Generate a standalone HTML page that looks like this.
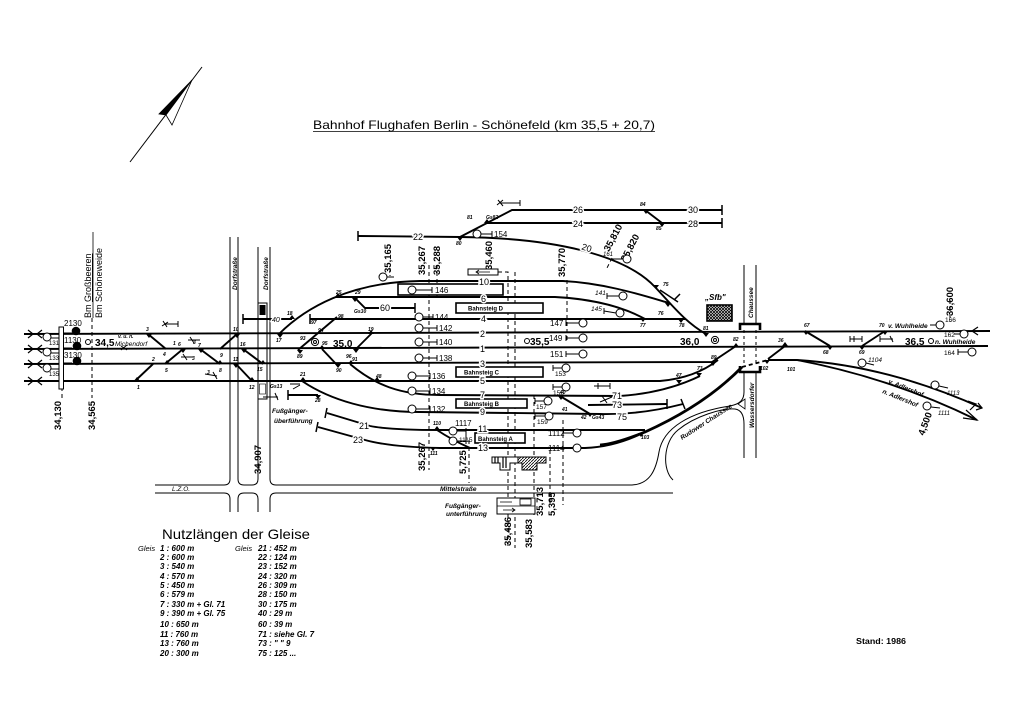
<!DOCTYPE html>
<html><head><meta charset="utf-8"><style>
html,body{margin:0;padding:0;background:#fff}
svg{display:block}
text{font-family:"Liberation Sans",sans-serif;fill:#000}
.t{font-size:9px;stroke:#fff;stroke-width:3;paint-order:stroke}
.s{font-size:5px;font-style:italic;font-weight:bold}
.i{font-size:6.5px;font-style:italic}
.ib{font-size:6.5px;font-style:italic;font-weight:bold}
.n{font-size:8px}
.k{font-size:10px;font-weight:bold}
.km{font-size:9.5px;font-weight:bold}
</style></head><body>
<svg width="1024" height="724" viewBox="0 0 1024 724" xmlns="http://www.w3.org/2000/svg">
<defs>
<pattern id="hx" width="3" height="3" patternUnits="userSpaceOnUse"><rect width="3" height="3" fill="#fff"/><path d="M0,0L3,3M3,0L0,3" stroke="#000" stroke-width="0.8"/></pattern>
<pattern id="hd" width="3" height="3" patternUnits="userSpaceOnUse"><rect width="3" height="3" fill="#fff"/><path d="M0,3L3,0" stroke="#000" stroke-width="0.8"/></pattern>
</defs>
<rect width="1024" height="724" fill="#fff"/>

<!-- North arrow -->
<line x1="130" y1="162" x2="202" y2="67" stroke="#000" stroke-width="1"/>
<polygon points="192,80 159,114 166,115" fill="#000" stroke="#000" stroke-width="0.8"/>
<polygon points="192,80 172,125 166,115" fill="#fff" stroke="#000" stroke-width="0.8"/>

<!-- Title -->
<text x="313" y="129" font-size="12" textLength="342" lengthAdjust="spacingAndGlyphs">Bahnhof Flughafen Berlin - Schönefeld (km 35,5 + 20,7)</text>
<line x1="313" y1="131.5" x2="655" y2="131.5" stroke="#000" stroke-width="0.8"/>

<!-- Roads -->
<g fill="none" stroke="#000" stroke-width="1">
 <path d="M155,485 L224,485 Q230,485 230,479 L230,237"/>
 <path d="M238,237 L238,479 Q238,485 244,485 L252,485 Q258,485 258,479 L258,399"/>
 <path d="M258,247 L258,303"/>
 <path d="M270,247 L270,479 Q270,485 276,485 L632,485 C650,484 656,470 659,452 C663,428 690,412 730,406 C740,404 744,400 744,392 L744,373"/>
 <path d="M155,493 L224,493 Q230,493 230,499 L230,512"/>
 <path d="M238,512 L238,499 Q238,493 244,493 L252,493 Q258,493 258,499 L258,512"/>
 <path d="M270,512 L270,499 Q270,493 276,493 L673,493"/>
 <path d="M673,480 C662,470 663,442 678,430 C695,416 722,408 735,409 C742,410 744,416 744,424 L744,458"/>
 <path d="M756,373 L756,458"/>
 <path d="M744,265 L744,325 M756,265 L756,325"/>
 <path d="M744,330 L744,366 M756,330 L756,366" stroke-dasharray="3,3"/>
</g>
<path d="M740,330 L740,324 L760,324 L760,330" fill="none" stroke="#000" stroke-width="2.6"/>
<path d="M740,366 L740,372 L760,372 L760,366" fill="none" stroke="#000" stroke-width="2.6"/>
<polygon points="738,404 745,399 745,409" fill="#fff" stroke="#000" stroke-width="0.8"/>

<!-- footbridge -->
<rect x="258" y="303" width="9" height="96" fill="#fff" stroke="#000" stroke-width="1"/>
<rect x="259.5" y="305" width="6" height="10" fill="#000"/>
<rect x="259.5" y="384" width="6" height="10" fill="#fff" stroke="#000" stroke-width="0.6"/>

<!-- km dashed lines -->
<g stroke="#000" stroke-width="1" stroke-dasharray="4,3" fill="none">
 <path d="M62,387 L62,398"/>
 <path d="M92,318 L92,398"/>
 <path d="M429,265 L429,470"/>
 <path d="M437,265 L437,300"/>
 <path d="M469,440 L469,483"/>
 <path d="M498,272 L508,272 L508,548"/>
 <path d="M515,272 L515,548"/>
 <path d="M534,395 L534,515"/>
 <path d="M550,450 L550,505"/>
 <path d="M563,420 L563,505"/>
 <path d="M567,280 L567,340"/>
 <path d="M258,440 L258,478"/>
 <path d="M950,300 L950,322"/>
 <path d="M612,258 L606,270"/>
 <path d="M390,268 L390,276"/>
</g>

<!-- Main tracks -->
<g fill="none" stroke="#000" stroke-width="1.9">
 <path d="M24,334 L990,331"/>
 <path d="M24,349 L988,346"/>
 <path d="M24,364 L712,362 L736,346"/>
 <path d="M24,381 L660,381 Q695,378 718,360"/>
 <path d="M310,319 L686,319"/>
 <path d="M243,319 L292,319"/>
 <path d="M279,334 C305,308 350,282 420,281 L563,281 C605,283 645,296 669,303"/>
 <path d="M358,236 L460,237 C555,238 625,255 655,287 C672,305 685,322 706,334"/>
 <path d="M336,297 L555,297 C595,299 625,308 645,319"/>
 <path d="M460,237 L512,210 L722,210"/>
 <path d="M486,223 L722,223"/>
 <path d="M645,210 L662,223"/>
 <path d="M350,364 C375,385 400,395 440,395 L620,396 Q665,393 700,376"/>
 <path d="M302,381 C330,400 370,412 420,412 L600,414 Q640,415 683,404"/>
 <path d="M588,405 L667,404"/>
 <path d="M560,396 L590,414"/>
 <path d="M288,395 L318,395"/>
 <path d="M327,413 L370,426 Q390,430 440,430 L645,430"/>
 <path d="M318,427 L365,440 Q390,447 440,448 L585,448 Q615,447 645,432"/>
 <path d="M437,430 Q452,440 470,448"/>
 <path d="M355,298 L365,308 L415,308"/>
 <path d="M148,334 L166,349"/>
 <path d="M135,381 L153,364"/>
 <path d="M165,364 L183,349"/>
 <path d="M200,349 L220,364"/>
 <path d="M220,349 L237,334"/>
 <path d="M236,364 L252,381"/>
 <path d="M243,349 L263,364"/>
 <path d="M298,350 L337,317"/>
 <path d="M322,349 L338,366"/>
 <path d="M355,350 L372,333"/>
 <path d="M805,331 L830,346"/>
 <path d="M885,331 L862,346"/>
 <path d="M785,346 L768,359"/>
 <path d="M797,360 C860,364 920,380 982,408"/>
 <path d="M797,360 C860,372 920,392 977,420"/>
 <path d="M768,360 L797,360"/>
</g>
<path d="M600,445 Q615,444 645,432 Q705,405 742,367" fill="none" stroke="#000" stroke-width="2.8"/>
<path d="M742,367 L768,360" fill="none" stroke="#000" stroke-width="1.8" stroke-dasharray="4,3"/>

<!-- bumpers -->
<g stroke="#000" stroke-width="1.5">
 <path d="M243,314 L243,324"/><path d="M310,314 L310,324"/>
 <path d="M358,231 L358,241"/><path d="M722,205 L722,215"/><path d="M722,218 L722,228"/>
 <path d="M288,390 L288,400"/><path d="M327,408 L325,418"/><path d="M318,422 L316,432"/>
 <path d="M415,303 L415,313"/><path d="M667,399 L667,409"/><path d="M681,399 L685,409"/>
 <path d="M674,300 L680,294"/><path d="M660,290 L678,302"/>
</g>

<!-- end arrows -->
<g fill="none" stroke="#000" stroke-width="1.2">
 <path d="M28,330 L33,334 L28,338 M42,330 L37,334 L42,338"/>
 <path d="M28,345 L33,349 L28,353 M42,345 L37,349 L42,353"/>
 <path d="M28,360 L33,364 L28,368 M42,360 L37,364 L42,368"/>
 <path d="M28,377 L33,381 L28,385 M42,377 L37,381 L42,385"/>
 <path d="M978,327 L972,331 L978,335"/>
 <path d="M968,401 L976,404 L970,410 M978,403 L982,408 L976,410"/>
 <path d="M966,410 L977,420 L963,418"/>
</g>

<!-- left signals -->
<rect x="59" y="327" width="4.5" height="62" fill="#fff" stroke="#000" stroke-width="1"/>
<g stroke="#000" stroke-width="1" fill="none">
 <path d="M63,333 L72,333 M63,348 L72,348 M63,363 L72,363"/>
 <path d="M51,338 L59,338 M51,353 L59,353 M51,369 L59,369"/>
</g>
<circle cx="76" cy="331" r="4.3" fill="#000"/>
<circle cx="77" cy="346" r="4.3" fill="#000"/>
<circle cx="77" cy="361" r="4.3" fill="#000"/>
<g fill="#fff" stroke="#000" stroke-width="1">
 <circle cx="47" cy="337" r="4"/><circle cx="47" cy="352" r="4"/><circle cx="47" cy="368" r="4"/>
 <circle cx="88" cy="342" r="2.5"/>
</g>
<g class="n" font-size="7">
 <text x="64" y="326">2130</text><text x="64" y="343">1130</text><text x="64" y="358">3130</text>
 <text x="49" y="345" font-size="6">131</text><text x="49" y="360" font-size="6">133</text><text x="49" y="376" font-size="6">135</text>
</g>
<text x="95" y="346" class="k">34,5</text>
<text x="118" y="338" class="s">v. u. n.</text>
<text x="115" y="346" class="i">Michendorf</text>

<!-- Bm labels -->
<text transform="translate(91,318) rotate(-90)" font-size="9">Bm <tspan text-decoration="underline">Großbeeren</tspan></text>
<line x1="93" y1="318" x2="93" y2="232" stroke="#000" stroke-width="0.8"/>
<text transform="translate(102,318) rotate(-90)" font-size="9">Bm  Schöneweide</text>

<!-- km rotated labels -->
<g class="km">
 <text transform="translate(61,430) rotate(-90)">34,130</text>
 <text transform="translate(95,430) rotate(-90)">34,565</text>
 <text transform="translate(261,474) rotate(-90)">34,907</text>
 <text transform="translate(391,273) rotate(-90)">35,165</text>
 <text transform="translate(425,275) rotate(-90)">35,267</text>
 <text transform="translate(440,275) rotate(-90)">35,288</text>
 <text transform="translate(492,270) rotate(-90)">35,460</text>
 <text transform="translate(565,277) rotate(-90)">35,770</text>
 <text transform="translate(425,471) rotate(-90)">35,267</text>
 <text transform="translate(466,474) rotate(-90)">5,725</text>
 <text transform="translate(511,546) rotate(-90)">35,486</text>
 <text transform="translate(532,548) rotate(-90)">35,583</text>
 <text transform="translate(543,516) rotate(-90)">35,713</text>
 <text transform="translate(555,516) rotate(-90)">5,395</text>
 <text transform="translate(953,316) rotate(-90)">36,600</text>
 <text transform="translate(609,252) rotate(-62)">35,810</text>
 <text transform="translate(626,262) rotate(-62)">35,820</text>
 <text transform="translate(924,436) rotate(-70)">4,500</text>
</g>

<!-- road names -->
<text transform="translate(237,290) rotate(-90)" class="ib">Dorfstraße</text>
<text transform="translate(268,290) rotate(-90)" class="ib">Dorfstraße</text>
<text transform="translate(753,318) rotate(-90)" class="ib">Chaussee</text>
<text transform="translate(754,428) rotate(-90)" class="ib">Wassersdorfer</text>
<text transform="translate(682,440) rotate(-33)" class="ib">Rudower Chaussee</text>
<text x="440" y="491" class="ib">Mittelstraße</text>
<text x="172" y="491" class="i" font-size="5.5">L.Z.O.</text>
<text x="272" y="413" class="ib">Fußgänger-</text>
<text x="274" y="423" class="ib">überführung</text>
<text x="445" y="508" class="ib">Fußgänger-</text>
<text x="446" y="516" class="ib">unterführung</text>

<!-- underpass box -->
<rect x="497" y="498" width="38" height="16" fill="#fff" stroke="#000" stroke-width="1"/>
<line x1="497" y1="506" x2="535" y2="506" stroke="#000" stroke-width="0.8"/>
<rect x="520" y="499" width="11" height="6" fill="#fff" stroke="#000" stroke-width="0.8"/>
<path d="M500,502 L512,502 M503,510 L515,510 M512,508 L515,510 L512,512" stroke="#000" stroke-width="0.8" fill="none"/>

<!-- small box with arrow -->
<rect x="468" y="269" width="30" height="6" fill="#fff" stroke="#000" stroke-width="1"/>
<path d="M476,272 L490,272 M479,270 L476,272 L479,274" stroke="#000" stroke-width="0.8" fill="none"/>

<!-- platforms -->
<g fill="#fff" stroke="#000" stroke-width="1.6">
 <rect x="398" y="284" width="105" height="11"/>
 <rect x="456" y="303" width="87" height="10"/>
 <rect x="456" y="367" width="87" height="10"/>
 <rect x="456" y="399" width="71" height="9"/>
 <rect x="475" y="433" width="50" height="10"/>
</g>
<g font-size="6" font-weight="bold">
 <text x="468" y="310.5">Bahnsteig  D</text>
 <text x="464" y="374.5">Bahnsteig  C</text>
 <text x="464" y="406">Bahnsteig  B</text>
 <text x="478" y="441">Bahnsteig  A</text>
</g>

<!-- station building -->
<path d="M492,457 L518,457 L518,463 L510,463 L510,470 L500,470 L500,463 L492,463 Z" fill="#fff" stroke="#000" stroke-width="1"/>
<path d="M495,457 L495,463 M498,457 L498,463 M503,457 L503,468 M506,457 L506,468" stroke="#000" stroke-width="1.2"/>
<path d="M518,457 L546,457 L546,463 L537,463 L537,470 L522,470 L522,463 L518,463 Z" fill="url(#hd)" stroke="#000" stroke-width="1"/>

<!-- Sfb -->
<text x="705" y="300" font-size="8" font-style="italic" font-weight="bold">„Sfb"</text>
<rect x="707" y="305" width="25" height="16" fill="url(#hx)" stroke="#000" stroke-width="1.6"/>

<!-- targets -->
<g fill="none" stroke="#000" stroke-width="1">
 <circle cx="315" cy="342" r="3.6"/><circle cx="315" cy="342" r="1.5"/>
 <circle cx="715" cy="340" r="3.6"/><circle cx="715" cy="340" r="1.5"/>
 <circle cx="527" cy="341" r="2.5"/><circle cx="931" cy="341" r="2.5"/>
</g>
<text x="333" y="347" class="k" font-size="11">35,0</text>
<text x="530" y="345" class="k" font-size="11">35,5</text>
<text x="680" y="345" class="k" font-size="11">36,0</text>
<text x="905" y="345" class="k" font-size="11">36,5</text>

<!-- signals -->
<g fill="#fff" stroke="#000" stroke-width="1">
 <circle cx="477" cy="234" r="4"/><circle cx="412" cy="290" r="4"/>
 <circle cx="419" cy="317" r="4"/><circle cx="419" cy="328" r="4"/><circle cx="419" cy="342" r="4"/>
 <circle cx="419" cy="358" r="4"/><circle cx="412" cy="376" r="4"/><circle cx="412" cy="391" r="4"/>
 <circle cx="412" cy="409" r="4"/><circle cx="383" cy="277" r="4"/>
 <circle cx="453" cy="431" r="4"/><circle cx="453" cy="441" r="4"/>
 <circle cx="583" cy="323" r="4"/><circle cx="583" cy="338" r="4"/><circle cx="583" cy="354" r="4"/>
 <circle cx="566" cy="368" r="4"/><circle cx="566" cy="387" r="4"/><circle cx="548" cy="401" r="4"/>
 <circle cx="549" cy="416" r="4"/><circle cx="623" cy="296" r="4"/><circle cx="620" cy="313" r="4"/>
 <circle cx="627" cy="259" r="4"/><circle cx="577" cy="433" r="4"/><circle cx="577" cy="448" r="4"/>
 <circle cx="940" cy="325" r="4"/><circle cx="964" cy="334" r="4"/><circle cx="972" cy="352" r="4"/>
 <circle cx="862" cy="363" r="4"/><circle cx="935" cy="385" r="4"/><circle cx="927" cy="406" r="4"/>
</g>
<g stroke="#000" stroke-width="1" fill="none">
 <path d="M481,234 L492,234 M492,231 L492,237"/>
 <path d="M416,290 L432,290 M432,287 L432,293"/>
 <path d="M423,317 L433,317 M433,314 L433,320"/>
 <path d="M423,328 L437,328 M437,325 L437,331"/>
 <path d="M423,342 L437,342 M437,339 L437,345"/>
 <path d="M423,358 L437,358 M437,355 L437,361"/>
 <path d="M416,376 L430,376 M430,373 L430,379"/>
 <path d="M416,391 L430,391 M430,388 L430,394"/>
 <path d="M416,409 L430,409 M430,406 L430,412"/>
 <path d="M387,277 L394,277"/>
 <path d="M457,431 L466,431 M457,441 L466,441 M466,428 L466,444"/>
 <path d="M579,323 L566,323 M566,320 L566,326"/>
 <path d="M579,338 L566,338 M566,335 L566,341"/>
 <path d="M579,354 L566,354 M566,351 L566,357"/>
 <path d="M562,368 L553,368 M553,365 L553,371"/>
 <path d="M562,387 L553,387 M553,384 L553,390"/>
 <path d="M544,401 L535,401 M535,398 L535,404"/>
 <path d="M545,416 L535,416 M535,413 L535,419"/>
 <path d="M619,296 L607,296 M607,293 L607,299"/>
 <path d="M616,313 L604,311 M604,308 L604,314"/>
 <path d="M623,259 L612,259"/>
 <path d="M573,433 L563,433 M563,430 L563,436"/>
 <path d="M573,448 L563,448 M563,445 L563,451"/>
 <path d="M936,325 L930,325"/>
 <path d="M960,334 L954,334"/>
 <path d="M968,352 L958,352 M958,349 L958,355"/>
 <path d="M866,363 L874,365"/>
 <path d="M939,386 L948,388"/>
 <path d="M931,407 L940,408"/>
</g>
<g class="n" font-size="7.5">
 <text x="494" y="237">154</text><text x="435" y="293">146</text><text x="435" y="320">144</text>
 <text x="439" y="331">142</text><text x="439" y="345">140</text><text x="439" y="361">138</text>
 <text x="432" y="379">136</text><text x="432" y="394">134</text><text x="432" y="412">132</text>
 <text x="455" y="426">1117</text><text x="459" y="442" font-size="6.5">1115</text>
 <text x="550" y="326">147</text><text x="549" y="341">149</text><text x="550" y="357">151</text>
 <text x="555" y="376" font-size="6.5">153</text><text x="553" y="395" font-size="6.5">155</text>
 <text x="536" y="409" font-size="6.5">157</text><text x="537" y="424" font-size="6.5">159</text>
 <text x="595" y="295" font-size="6.5" font-style="italic">141</text><text x="591" y="311" font-size="6.5" font-style="italic">145</text>
 <text x="603" y="256" font-size="6" font-style="italic">161</text>
 <text x="548" y="436">1112</text><text x="548" y="451">1114</text>
 <text x="945" y="322" font-size="6.5">166</text><text x="944" y="337" font-size="6.5">162</text><text x="944" y="355" font-size="6.5">164</text>
 <text x="868" y="362" font-size="6.5" font-style="italic">1104</text><text x="947" y="395" font-size="6" font-style="italic">1113</text><text x="938" y="415" font-size="6" font-style="italic">1111</text>
</g>

<!-- track number labels -->
<g class="t">
 <text x="413" y="240">22</text><text x="573" y="213">26</text><text x="573" y="227">24</text>
 <text x="688" y="213">30</text><text x="688" y="227">28</text>
 <text x="582" y="251" transform="rotate(18 587 247)">20</text>
 <text x="479" y="285">10</text><text x="481" y="302">6</text><text x="481" y="322">4</text>
 <text x="480" y="337">2</text><text x="480" y="352">1</text><text x="480" y="367">3</text>
 <text x="480" y="384">5</text><text x="480" y="398">7</text><text x="480" y="415">9</text>
 <text x="478" y="432">11</text><text x="478" y="451">13</text>
 <text x="359" y="429">21</text><text x="353" y="443">23</text>
 <text x="380" y="311">60</text><text x="272" y="322" font-size="7" font-style="italic">40</text>
 <text x="612" y="399">71</text><text x="612" y="408">73</text><text x="617" y="420">75</text>
</g>

<!-- switch marks -->
<g fill="#000">
 <path d="M146,334 L152,334 L149,338 Z"/><path d="M134,381 L140,381 L137,377 Z"/>
 <path d="M164,364 L170,364 L167,360 Z"/><path d="M180,349 L186,349 L183,353 Z"/>
 <path d="M198,349 L204,349 L201,353 Z"/><path d="M217,364 L223,364 L220,360 Z"/>
 <path d="M234,334 L240,334 L237,338 Z"/><path d="M233,364 L239,364 L236,368 Z"/>
 <path d="M249,381 L255,381 L252,377 Z"/><path d="M241,349 L247,349 L244,353 Z"/>
 <path d="M260,364 L266,364 L263,360 Z"/><path d="M277,334 L283,334 L280,338 Z"/>
 <path d="M289,319 L295,319 L292,315 Z"/><path d="M297,350 L303,350 L300,354 Z"/>
 <path d="M319,349 L325,349 L322,345 Z"/><path d="M335,364 L341,364 L338,368 Z"/>
 <path d="M353,349 L359,349 L356,353 Z"/><path d="M368,334 L374,334 L371,330 Z"/>
 <path d="M348,364 L354,364 L351,360 Z"/><path d="M374,381 L380,381 L377,377 Z"/>
 <path d="M300,381 L306,381 L303,377 Z"/><path d="M315,395 L321,395 L318,399 Z"/>
 <path d="M335,297 L341,297 L338,293 Z"/><path d="M352,298 L358,298 L355,302 Z"/>
 <path d="M434,430 L440,430 L437,426 Z"/><path d="M430,447 L436,447 L433,451 Z"/>
 <path d="M457,237 L463,237 L460,241 Z"/><path d="M643,210 L649,210 L646,214 Z"/>
 <path d="M659,223 L665,223 L662,227 Z"/><path d="M640,318 L646,318 L643,322 Z"/>
 <path d="M678,319 L684,319 L681,323 Z"/><path d="M703,333 L709,333 L706,337 Z"/>
 <path d="M665,303 L671,303 L668,307 Z"/><path d="M653,285 L659,285 L656,289 Z"/>
 <path d="M710,362 L716,362 L713,366 Z"/><path d="M733,347 L739,347 L736,343 Z"/>
 <path d="M676,380 L682,380 L679,384 Z"/><path d="M696,373 L702,373 L699,377 Z"/>
 <path d="M638,433 L644,433 L641,437 Z"/><path d="M764,360 L770,360 L767,364 Z"/>
 <path d="M782,346 L788,346 L785,342 Z"/><path d="M803,331 L809,331 L806,335 Z"/>
 <path d="M827,346 L833,346 L830,350 Z"/><path d="M882,331 L888,331 L885,335 Z"/>
 <path d="M859,346 L865,346 L862,350 Z"/><path d="M558,396 L564,396 L561,400 Z"/>
 <path d="M587,413 L593,413 L590,417 Z"/><path d="M484,223 L490,223 L487,219 Z"/>
</g>

<!-- switch numbers -->
<g class="s">
 <text x="146" y="331">3</text><text x="163" y="356">4</text><text x="152" y="361">2</text><text x="137" y="389">1</text>
 <text x="165" y="372">5</text><text x="178" y="346">6</text><text x="198" y="347">7</text><text x="219" y="372">8</text>
 <text x="220" y="357">9</text><text x="233" y="331">10</text><text x="233" y="361">11</text><text x="249" y="389">12</text>
 <text x="240" y="346">16</text><text x="257" y="371">15</text><text x="276" y="342">17</text><text x="287" y="315">18</text>
 <text x="297" y="358">89</text><text x="300" y="340">93</text><text x="318" y="332">94</text><text x="311" y="324">97</text>
 <text x="338" y="318">98</text><text x="322" y="345">95</text><text x="346" y="358">96</text><text x="368" y="331">19</text>
 <text x="336" y="372">90</text><text x="352" y="361">91</text><text x="376" y="378">48</text><text x="300" y="376">21</text>
 <text x="315" y="402">28</text><text x="336" y="294">25</text><text x="355" y="294">29</text><text x="354" y="313">Gs30</text>
 <text x="433" y="425">110</text><text x="430" y="455">111</text><text x="456" y="245">80</text><text x="467" y="219">81</text>
 <text x="486" y="219">Gs82</text><text x="640" y="206">84</text><text x="656" y="230">85</text><text x="663" y="286">75</text>
 <text x="658" y="315">76</text><text x="640" y="327">77</text><text x="679" y="327">78</text><text x="703" y="330">81</text>
 <text x="733" y="341">82</text><text x="711" y="359">89</text><text x="676" y="377">47</text><text x="697" y="370">73</text>
 <text x="560" y="394">40</text><text x="562" y="411">41</text><text x="581" y="419">42</text><text x="592" y="419">Gs43</text>
 <text x="641" y="439">103</text><text x="760" y="370">102</text><text x="787" y="371">101</text><text x="778" y="342">36</text>
 <text x="804" y="327">67</text><text x="823" y="354">68</text><text x="879" y="327">70</text><text x="859" y="354">69</text>
 <text x="173" y="345">1</text>
</g>

<!-- shunting signals -->
<g stroke="#000" stroke-width="1" fill="none">
 <path d="M162,326 L168,322 M163,321 L167,327 M165,324 L178,324 M178,321 L178,327"/>
 <path d="M188,340 L200,340 M190,337 L194,343"/>
 <path d="M181,357 L193,357 M183,354 L187,360"/>
 <path d="M205,374 L217,376 M213,372 L217,379"/>
 <path d="M293,389 L300,385 M290,384 L300,384"/>
 <path d="M263,397 L278,397 M275,393 L278,400"/>
 <path d="M498,200 L503,206 M497,205 L503,200 M500,203 L520,203 M520,200 L520,206"/>
 <path d="M594,386 L610,386 M598,383 L598,389 M610,383 L610,389"/>
 <path d="M600,402 L612,397 M602,396 L607,403"/>
 <path d="M850,339 L862,339 M850,336 L850,342 M854,336 L854,342 M862,336 L862,342"/>
 <path d="M880,339 L893,339 M880,336 L880,342 M890,336 L893,342"/>
 <path d="M121,350 L127,345 M121,346 L127,350"/>
</g>
<text x="193" y="344" class="s">3</text><text x="192" y="360" class="s">3</text><text x="207" y="374" class="s">3</text>
<text x="270" y="388" class="s">Gs13</text>

<!-- direction labels -->
<text x="888" y="328" class="ib" font-size="6">v. Wuhlheide</text>
<text x="935" y="344" class="ib" font-size="6">n. Wuhlheide</text>
<text transform="translate(888,383) rotate(22)" class="ib" font-size="6">v. Adlershof</text>
<text transform="translate(882,393) rotate(22)" class="ib" font-size="6">n. Adlershof</text>

<!-- Nutzlängen -->
<text x="162" y="539" font-size="14" textLength="148" lengthAdjust="spacingAndGlyphs">Nutzlängen der Gleise</text>
<g font-size="7.5" font-style="italic">
 <text x="138" y="551">Gleis</text><text x="235" y="551">Gleis</text>
</g>
<g font-size="8" font-style="italic" font-weight="bold">
 <text x="160" y="551">1 : 600 m</text><text x="160" y="560">2 : 600 m</text><text x="160" y="569">3 : 540 m</text>
 <text x="160" y="579">4 : 570 m</text><text x="160" y="588">5 : 450 m</text><text x="160" y="597">6 : 579 m</text>
 <text x="160" y="607">7 : 330 m + Gl. 71</text><text x="160" y="616">9 : 390 m + Gl. 75</text><text x="160" y="627">10 : 650 m</text>
 <text x="160" y="637">11 : 760 m</text><text x="160" y="646">13 : 760 m</text><text x="160" y="656">20 : 300 m</text>
 <text x="258" y="551">21 : 452 m</text><text x="258" y="560">22 : 124 m</text><text x="258" y="569">23 : 152 m</text>
 <text x="258" y="579">24 : 320 m</text><text x="258" y="588">26 : 309 m</text><text x="258" y="597">28 : 150 m</text>
 <text x="258" y="607">30 : 175 m</text><text x="258" y="616">40 : 29 m</text><text x="258" y="627">60 : 39 m</text>
 <text x="258" y="637">71 : siehe Gl. 7</text><text x="258" y="646">73 : "  " 9</text><text x="258" y="656">75 : 125 ...</text>
</g>
<text x="856" y="644" font-size="8.5" font-weight="bold" textLength="50" lengthAdjust="spacingAndGlyphs">Stand: 1986</text>
</svg>
</body></html>
